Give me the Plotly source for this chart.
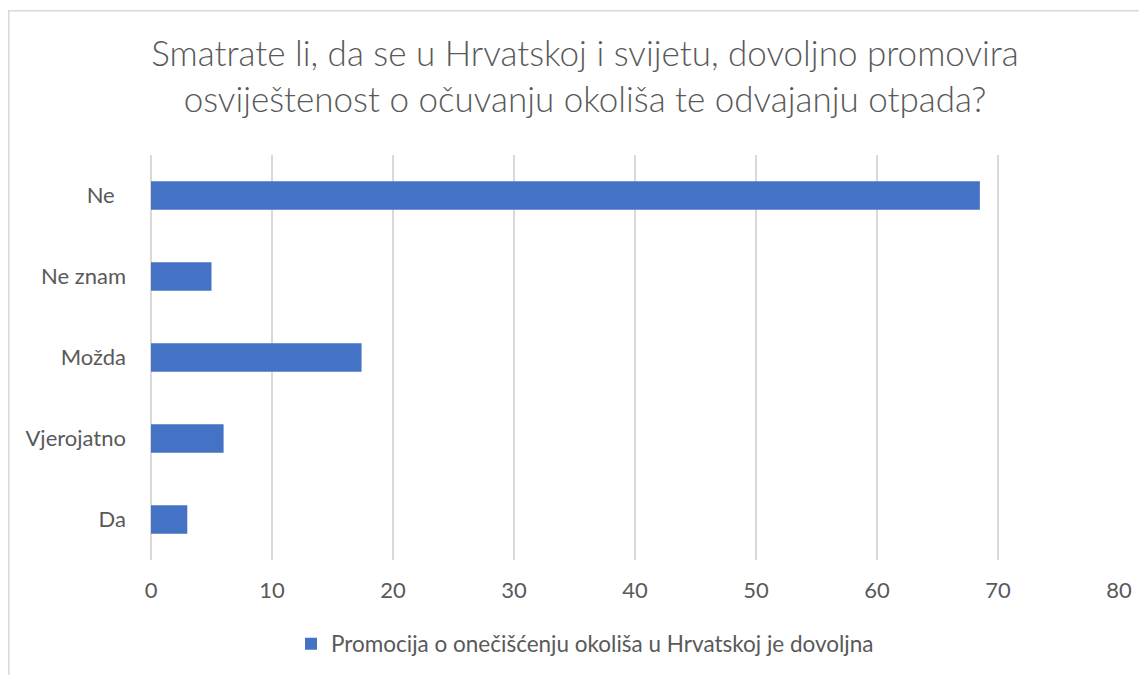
import plotly.graph_objects as go

categories = ["Ne\u00a0\u00a0", "Ne znam", "Možda", "Vjerojatno", "Da"]
values = [68.5, 5, 17.4, 6, 3]
series_name = "Promocija o onečišćenju okoliša u Hrvatskoj je dovoljna"
title_text = ("Smatrate li, da se u Hrvatskoj i svijetu, dovoljno promovira<br>"
              "osviještenost o očuvanju okoliša te odvajanju otpada?")
x_ticks = [0, 10, 20, 30, 40, 50, 60, 70, 80]

FONT = "Lato, 'Open Sans', sans-serif"
GREY = "#595959"

# page has an 8px body margin; figure coordinates = page - 8
OFF = 8
W, H = 1147 - OFF, 675 - OFF
L, R, T, B = 151 - OFF, 1119 - OFF, 155 - OFF, 560 - OFF
pw, ph = R - L, B - T

fig = go.Figure()
fig.add_trace(go.Bar(
    y=categories, x=values, orientation="h",
    name=series_name, marker=dict(color="#4472C4", line=dict(width=0)),
    showlegend=True,
))

fig.update_layout(
    width=W, height=H,
    margin=dict(l=L, r=W - R, t=T, b=H - B, autoexpand=False),
    paper_bgcolor="white", plot_bgcolor="white",
    font=dict(family=FONT, color=GREY, size=22),
    bargap=0.647,
    title=dict(text=title_text, x=(585 - OFF) / W, xanchor="center", xref="container",
               y=1 - (66 - OFF) / H, yanchor="middle", yref="container",
               font=dict(size=35, color=GREY, family=FONT, weight=300)),
    showlegend=True,
    legend=dict(orientation="h", x=(585 - OFF - L) / pw, xanchor="center",
                y=(B - (644 - OFF)) / ph, yanchor="middle",
                font=dict(size=22.5, color=GREY), itemwidth=30,
                bgcolor="rgba(0,0,0,0)"),
    xaxis=dict(range=[0, 80], tickvals=x_ticks, showgrid=True,
               gridcolor="#d9d9d9", gridwidth=1.5, zeroline=True,
               zerolinecolor="#d9d9d9", zerolinewidth=1.5,
               showline=False, ticks="", ticklabelstandoff=15,
               tickfont=dict(size=22, color=GREY), fixedrange=True),
    yaxis=dict(categoryorder="array", categoryarray=categories[::-1],
               showgrid=False, zeroline=False, showline=False, ticks="",
               ticklabelstandoff=24, tickfont=dict(size=22, color=GREY)),
)

fig.add_shape(type="rect", xref="paper", yref="paper",
              x0=(0.75 - L) / pw, x1=(W + 20 - L) / pw,
              y0=(B - (H + 20)) / ph, y1=(B - 2.75) / ph,
              line=dict(color="#d9d9d9", width=1.5), fillcolor="rgba(0,0,0,0)",
              layer="below")

fig.write_html("out.html")
